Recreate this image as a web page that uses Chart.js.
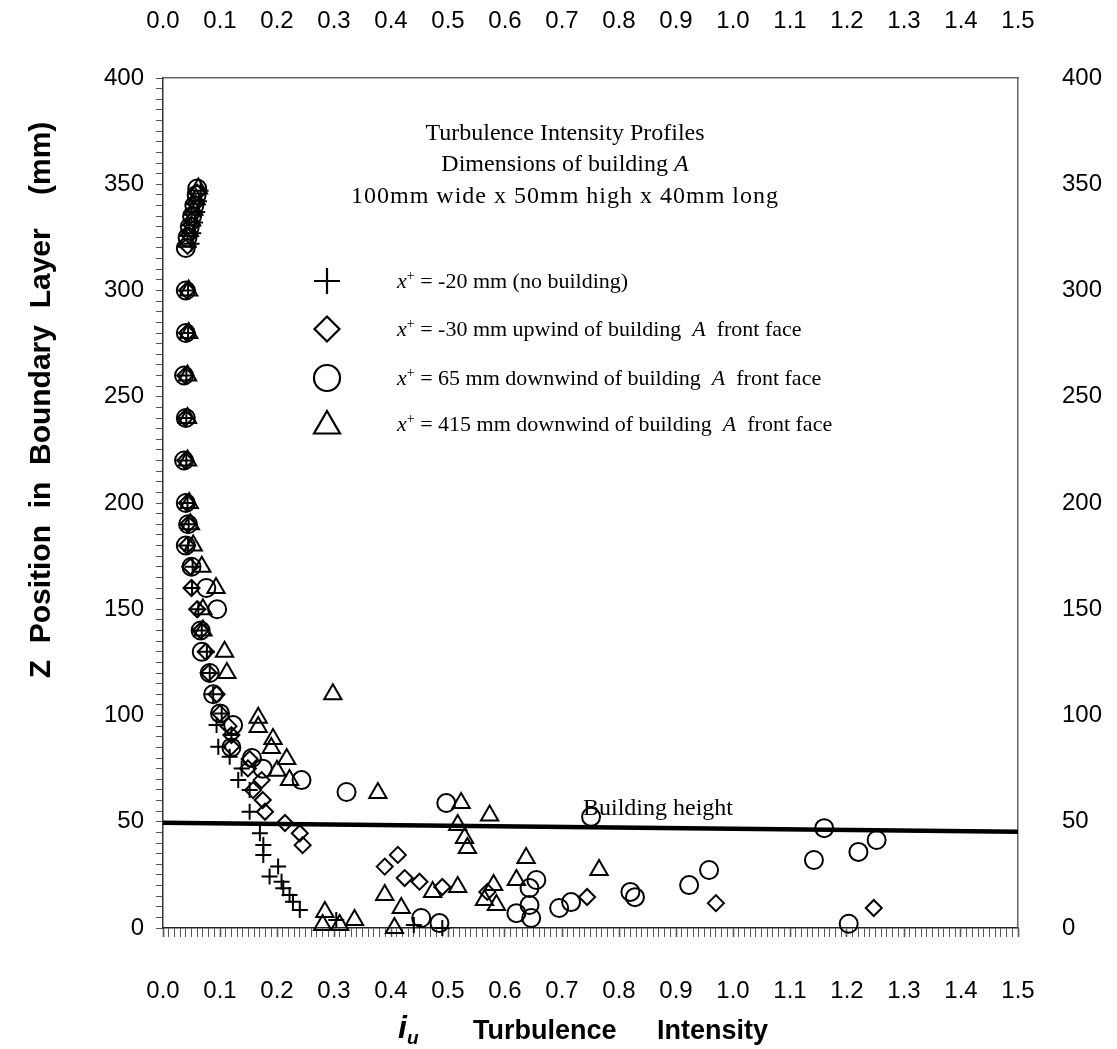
<!DOCTYPE html>
<html>
<head>
<meta charset="utf-8">
<title>Turbulence Intensity Profiles</title>
<script src="https://cdn.jsdelivr.net/npm/chart.js@4.4.1/dist/chart.umd.min.js"></script>
<style>
  body { margin: 0; background: #fff; }
  canvas { display: block; }
</style>
</head>
<body>
<canvas id="perfiles" width="1117" height="1049"></canvas>
<script>
// turbulence intensity (iu) against height in the boundary layer (z, mm)

// x+ = -20 mm (no building)  -> plus
const noBuildingIu = [0.050, 0.053, 0.056, 0.060, 0.063, 0.066, 0.044, 0.044, 0.041, 0.041, 0.041, 0.043, 0.045, 0.044, 0.052, 0.051,
  0.062, 0.068, 0.077, 0.082, 0.088, 0.103, 0.094, 0.120, 0.097, 0.117, 0.138, 0.132, 0.152, 0.152, 0.170, 0.176, 0.176, 0.202,
  0.187, 0.208, 0.211, 0.222, 0.228, 0.240, 0.304, 0.440, 0.490];
const noBuildingZ = [322, 327, 332, 337, 342, 347, 300, 280, 260, 240, 220, 200, 190, 180, 170, 160,
  150, 140, 130, 120, 110, 101, 95.5, 90.8, 85.3, 80.6, 75.1, 69.6, 64.9, 54.7, 44.6, 39.1, 34.4, 28.9,
  24.2, 21.8, 18.7, 15.5, 12.4, 8.5, 3.8, 1.4, 0];

// x+ = -30 mm upwind of building A front face -> diamond
const upwindIu = [0.043, 0.046, 0.050, 0.053, 0.057, 0.060, 0.042, 0.042, 0.039, 0.039, 0.039, 0.042, 0.044, 0.042, 0.048, 0.050,
  0.060, 0.066, 0.075, 0.080, 0.094, 0.100, 0.115, 0.120, 0.120, 0.152, 0.149, 0.173, 0.158, 0.175, 0.179, 0.214, 0.240, 0.245,
  0.412, 0.389, 0.424, 0.450, 0.490, 0.569, 0.744, 0.970, 1.247];
const upwindZ = [321, 326, 331, 336, 341, 346, 300, 280, 260, 240, 220, 200, 190, 180, 170, 160,
  150, 140, 130, 120, 110, 101, 95, 90.8, 85.3, 79.5, 75.1, 69.6, 64.9, 60.2, 54.7, 49.4, 44.6, 39,
  34.4, 28.9, 23.5, 21.8, 19.3, 17, 14.6, 11.7, 9.4];

// x+ = 65 mm downwind of building A front face -> circle
const down65Iu = [0.040, 0.043, 0.047, 0.051, 0.055, 0.059, 0.060, 0.040, 0.040, 0.037, 0.040, 0.037, 0.040, 0.044, 0.040, 0.050,
  0.076, 0.095, 0.066, 0.068, 0.082, 0.088, 0.100, 0.123, 0.120, 0.156, 0.175, 0.243, 0.322, 0.497, 0.751, 1.160, 1.252, 1.220,
  1.142, 0.958, 0.923, 0.655, 0.643, 0.820, 0.828, 0.716, 0.695, 0.643, 0.620, 0.646, 0.453, 0.485, 1.203];
const down65Z = [320, 325, 330, 335, 340, 345, 348, 300, 280, 260, 240, 220, 200, 190, 180, 170,
  160, 150, 140, 130, 120, 110, 101, 95.5, 85, 80, 75, 69.6, 64, 58.8, 52.3, 47, 41.4, 35.8,
  32, 27.3, 20.2, 22.6, 18.8, 17, 14.5, 12.2, 9.4, 10.8, 7, 4.7, 4.7, 2.3, 2];

// x+ = 415 mm downwind of building A front face -> triangle
const down415Iu = [0.042, 0.046, 0.050, 0.054, 0.058, 0.062, 0.045, 0.045, 0.043, 0.043, 0.043, 0.046, 0.048, 0.053, 0.068, 0.093,
  0.070, 0.070, 0.108, 0.112, 0.298, 0.167, 0.167, 0.193, 0.190, 0.217, 0.200, 0.222, 0.377, 0.523, 0.573, 0.517, 0.529, 0.534,
  0.637, 0.765, 0.620, 0.580, 0.517, 0.473, 0.389, 0.564, 0.585, 0.418, 0.284, 0.280, 0.310, 0.336, 0.406];
const down415Z = [323, 328, 333, 338, 343, 348, 300, 280, 260, 240, 220, 200, 190, 180, 170, 160,
  150, 140, 130, 120, 110, 99, 94.6, 89, 84.7, 79.5, 74, 69.6, 63.5, 58.8, 53, 48.5, 42.4, 37.6,
  33, 27.3, 22.6, 20.2, 19.3, 17, 15.5, 13.2, 10.8, 9.4, 7.5, 1.4, 1.4, 3.8, 0];

// building height reference line (drawn slightly tilted in the scan)
const buildingIu = [0, 1.5];
const buildingZ = [49.5, 45.3];

const sans = '"Liberation Sans", Arial, Helvetica, sans-serif';
const serif = '"Liberation Serif", "Times New Roman", Times, serif';

function pares(xs, ys) {
  return xs.map((x, i) => ({ x: x, y: ys[i] }));
}

function serie(label, xs, ys, estilo, radio) {
  return {
    label: label,
    data: pares(xs, ys),
    pointStyle: estilo,
    pointRadius: radio,
    pointHoverRadius: radio,
    pointBorderWidth: 2,
    pointBorderColor: '#000',
    pointBackgroundColor: 'rgba(0,0,0,0)',
    showLine: false,
    clip: false
  };
}

// draws a sequence of text pieces with their own font and vertical shift
function tramos(c, piezas, x, y) {
  piezas.forEach(p => {
    c.font = p[1];
    c.fillText(p[0], x, y + (p[2] || 0));
    x += c.measureText(p[0]).width;
  });
  return x;
}

function anchoTramos(c, piezas) {
  let w = 0;
  piezas.forEach(p => { c.font = p[1]; w += c.measureText(p[0]).width; });
  return w;
}

const textos = {
  id: 'textos',
  afterDraw(chart) {
    const c = chart.ctx;
    c.save();
    c.fillStyle = '#000';
    c.textBaseline = 'alphabetic';
    c.textAlign = 'left';

    // title block
    const f = '24px ' + serif;
    const fi = 'italic 24px ' + serif;
    const lineas = [
      [['Turbulence Intensity Profiles', f]],
      [['Dimensions of building ', f], ['A', fi]],
      [['100mm wide x 50mm high x 40mm long', f]]
    ];
    const bases = [140, 171, 203];
    lineas.forEach((l, i) => {
      c.letterSpacing = i === 2 ? '1px' : '0px';
      const w = anchoTramos(c, l);
      tramos(c, l, 565 - w / 2, bases[i]);
    });
    c.letterSpacing = '0px';

    // legend
    const lf = '22px ' + serif;
    const lfi = 'italic 22px ' + serif;
    const sup = '14px ' + serif;
    const filas = [
      ['cross', 13, [['-20 mm (no building)', lf]]],
      ['rectRot', 12.5, [['-30 mm upwind of building  ', lf], ['A', lfi], ['  front face', lf]]],
      ['circle', 13, [['65 mm downwind of building  ', lf], ['A', lfi], ['  front face', lf]]],
      ['triangle', 15, [['415 mm downwind of building  ', lf], ['A', lfi], ['  front face', lf]]]
    ];
    const filaY = [281, 329, 378, 424];
    filas.forEach((fila, i) => {
      const y = filaY[i];
      c.save();
      c.lineWidth = 2.2;
      c.strokeStyle = '#000';
      c.fillStyle = 'rgba(0,0,0,0)';
      Chart.helpers.drawPoint(c, { pointStyle: fila[0], radius: fila[1], rotation: 0, borderWidth: 2.2 }, 327, fila[0] === 'triangle' ? y + 2 : y);
      c.restore();
      const piezas = [['x', lfi], ['+', sup, -8], [' = ', lf]].concat(fila[2]);
      tramos(c, piezas, 397, y + 7);
    });

    // building height label
    c.font = '24px ' + serif;
    c.fillText('Building height', 583, 815);

    // x axis title
    tramos(c, [['i', 'italic bold 32px ' + sans], ['u', 'italic bold 19px ' + sans, 6]], 398, 1038);
    c.font = 'bold 27px ' + sans;
    c.fillText('Turbulence', 473, 1039);
    c.fillText('Intensity', 657, 1039);

    // y axis title, rotated
    c.save();
    c.translate(50, 400);
    c.rotate(-Math.PI / 2);
    c.textAlign = 'center';
    c.font = 'bold 30px ' + sans;
    c.fillText('Z  Position  in  Boundary  Layer    (mm)', 0, 0);
    c.restore();

    c.restore();
  }
};

const ctx = document.getElementById('perfiles').getContext('2d');
new Chart(ctx, {
  type: 'scatter',
  data: {
    datasets: [
      {
        label: 'Building height',
        data: pares(buildingIu, buildingZ),
        showLine: true,
        borderColor: '#000',
        borderWidth: 4.5,
        pointRadius: 0,
        fill: false,
        clip: false
      },
      serie('x+ = -20 mm (no building)', noBuildingIu, noBuildingZ, 'cross', 8),
      serie('x+ = -30 mm upwind of building A front face', upwindIu, upwindZ, 'rectRot', 8),
      serie('x+ = 65 mm downwind of building A front face', down65Iu, down65Z, 'circle', 9),
      serie('x+ = 415 mm downwind of building A front face', down415Iu, down415Z, 'triangle', 10)
    ]
  },
  options: {
    responsive: false,
    animation: false,
    layout: { padding: 0 },
    plugins: {
      legend: { display: false },
      tooltip: { enabled: false }
    },
    scales: {
      x: {
        type: 'linear',
        position: 'bottom',
        min: 0,
        max: 1.5,
        afterFit: s => { s.height = 121; },
        ticks: {
          stepSize: 0.01,
          autoSkip: false,
          maxRotation: 0,
          padding: 40,
          color: '#000',
          font: { family: sans, size: 24 },
          callback: v => Math.round(v * 100) % 10 === 0 ? v.toFixed(1) : ''
        },
        grid: {
          drawOnChartArea: false,
          drawTicks: true,
          tickLength: 9,
          tickColor: '#555',
          tickWidth: c => (Math.round(c.tick.value * 100) % 10 === 0 ? 1.6 : 1)
        },
        border: { display: true, color: '#222', width: 1.5 }
      },
      xTop: {
        type: 'linear',
        position: 'top',
        min: 0,
        max: 1.5,
        afterFit: s => { s.height = 78; },
        ticks: {
          stepSize: 0.1,
          maxRotation: 0,
          padding: 42,
          color: '#000',
          font: { family: '"Liberation Sans Narrow", ' + sans, size: 24 },
          callback: v => v.toFixed(1)
        },
        grid: { drawOnChartArea: false, drawTicks: false },
        border: { display: true, color: '#666', width: 1.5, dash: [2, 3] }
      },
      y: {
        type: 'linear',
        position: 'left',
        min: 0,
        max: 400,
        afterFit: s => { s.width = 163; },
        ticks: {
          stepSize: 5,
          autoSkip: false,
          padding: 12,
          color: '#000',
          font: { family: sans, size: 24 },
          callback: v => v % 50 === 0 ? v : ''
        },
        grid: {
          drawOnChartArea: false,
          drawTicks: true,
          tickLength: 7,
          tickColor: '#555'
        },
        border: { display: true, color: '#333', width: 1.5, dash: [2, 2] }
      },
      yRight: {
        type: 'linear',
        position: 'right',
        min: 0,
        max: 400,
        afterFit: s => { s.width = 99; },
        ticks: {
          stepSize: 50,
          padding: 44,
          color: '#000',
          font: { family: sans, size: 24 }
        },
        grid: { drawOnChartArea: false, drawTicks: false },
        border: { display: true, color: '#666', width: 1.5, dash: [2, 4] }
      }
    }
  },
  plugins: [textos]
});
</script>
</body>
</html>
